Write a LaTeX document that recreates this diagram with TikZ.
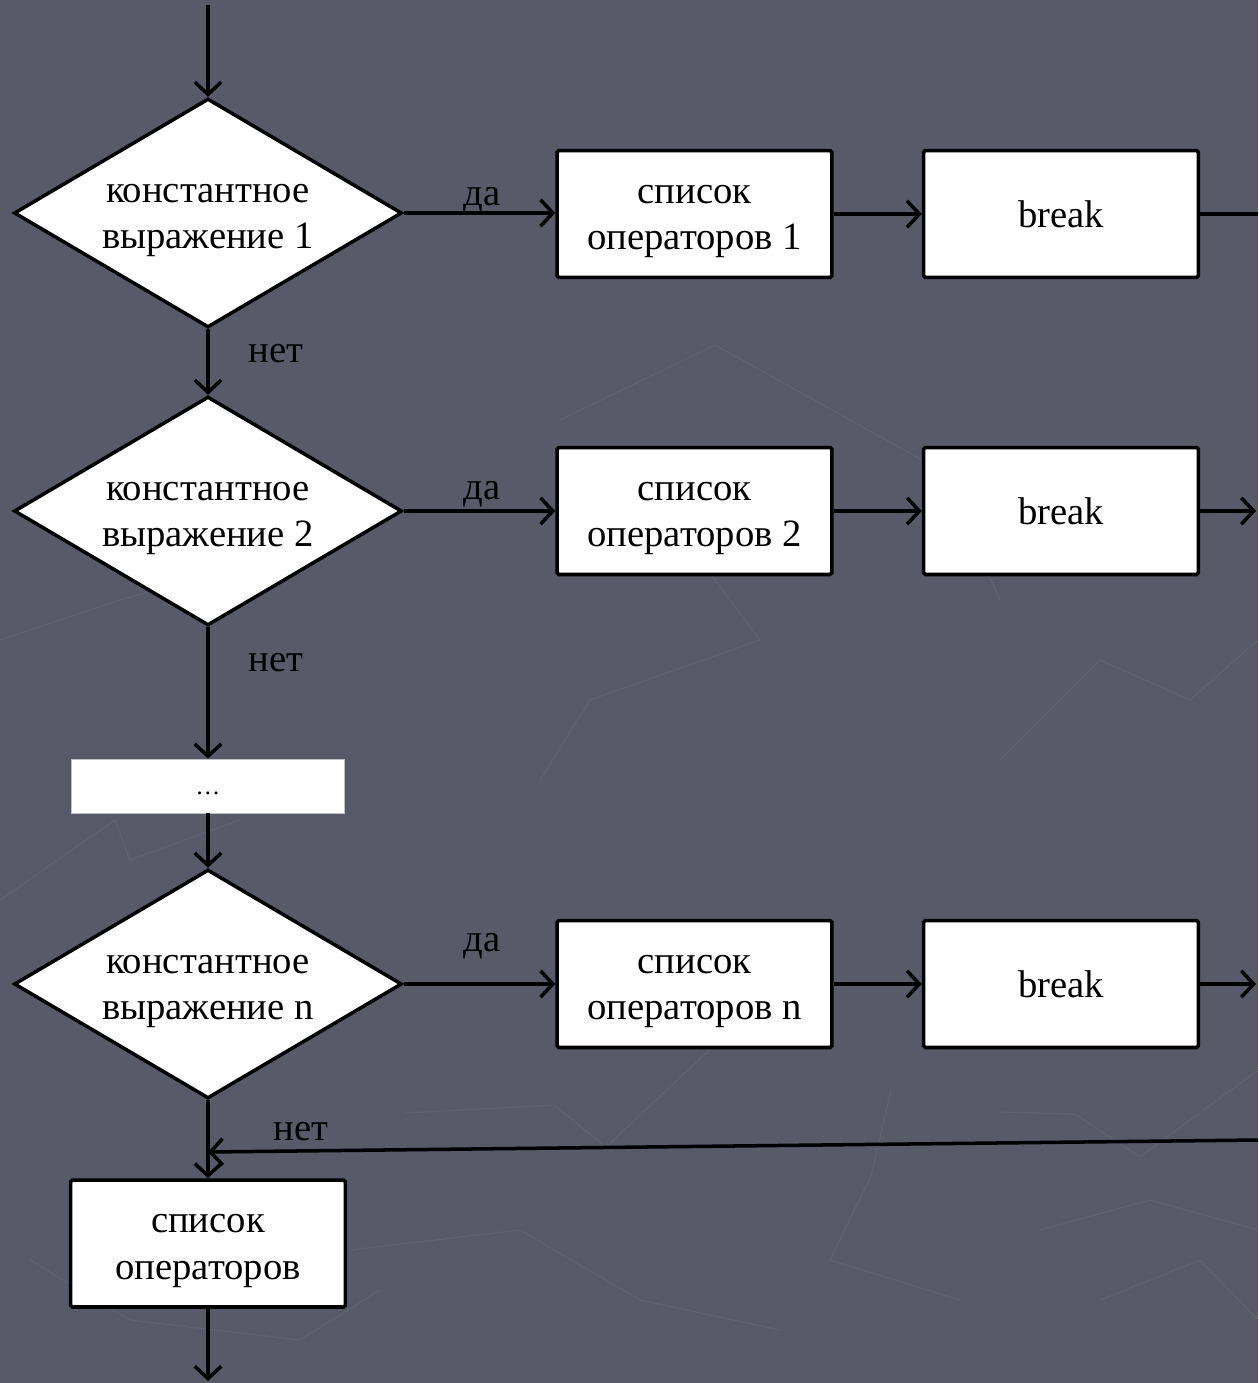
\documentclass[tikz,border=0pt]{standalone}
\usepackage{fontspec}
\setmainfont{Liberation Serif}
\usetikzlibrary{shapes.geometric,arrows.meta}
\definecolor{slate}{RGB}{88,90,105}
\definecolor{sheen}{RGB}{96,98,113}
\definecolor{dotsframe}{RGB}{190,190,195}
% line strut: sets the baseline a little lower inside two-line boxes
\newcommand\lstrut{\rule[-5pt]{0pt}{24pt}}
\tikzset{
  base/.style={line width=2pt, draw=black, fill=white, inner sep=0pt,
    font=\fontsize{22}{26.5}\selectfont, align=center, text=black},
  decision/.style={base, diamond, aspect=1.7,
    minimum width=7.76cm, minimum height=4.58cm},
  stepbox/.style={base, rectangle, rounded corners=1pt,
    minimum width=5.5cm, minimum height=2.54cm},
  gapbox/.style={rectangle, fill=white, draw=dotsframe, line width=0.4pt,
    minimum width=5.46cm, minimum height=1.08cm, inner sep=0pt,
    font=\fontsize{14}{25}\selectfont},
  lbl/.style={font=\fontsize{22}{26.5}\selectfont, text=black, inner sep=0pt, anchor=base},
  wire/.style={line width=2pt, draw=black},
  flow/.style={wire, -{Straight Barb[length=7pt, width=15pt]}},
  texture/.style={draw=sheen, line width=0.7pt, line join=round}
}
\begin{document}
\begin{tikzpicture}[x=0.02cm, y=-0.02cm]
  % page and background
  \fill[slate] (0,0) rectangle (1258,1383);
  \useasboundingbox (0,0) rectangle (1258,1383);

  % faint background texture
  \draw[texture] (405,1113) -- (554,1105) -- (606,1147) -- (720,1040) -- (640,980);
  \draw[texture] (999,1112) -- (1075,1114) -- (1140,1157) -- (1258,1070);
  \draw[texture] (891,1090) -- (871,1176) -- (830,1260) -- (960,1300);
  \draw[texture] (560,420) -- (715,345) -- (940,470) -- (1000,600);
  \draw[texture] (540,780) -- (590,700) -- (760,640) -- (700,560);
  \draw[texture] (1000,760) -- (1100,660) -- (1190,700) -- (1258,640);
  \draw[texture] (0,640) -- (120,600) -- (260,560);
  \draw[texture] (0,900) -- (115,820) -- (130,860) -- (240,820);
  \draw[texture] (30,1260) -- (130,1320) -- (300,1340) -- (380,1290);
  \draw[texture] (350,1250) -- (520,1230) -- (640,1300) -- (780,1330);
  \draw[texture] (1040,1230) -- (1150,1200) -- (1258,1230);
  \draw[texture] (1100,1300) -- (1200,1260) -- (1258,1320);

  % main column
  \node[decision] (d1) at (208,213) {\lstrut константное\\\lstrut выражение 1};
  \node[decision] (d2) at (208,511) {\lstrut константное\\\lstrut выражение 2};
  \node[gapbox] (gap) at (208,786) {\strut\ldots};
  \node[decision] (dn) at (208,984) {\lstrut константное\\\lstrut выражение n};
  \node[stepbox] (fin) at (208,1243.5) {\lstrut список\\\lstrut операторов};

  % branch rows
  \node[stepbox] (s1) at (694.5,214) {\lstrut список\\\lstrut операторов 1};
  \node[stepbox] (b1) at (1061,214) {break};
  \node[stepbox] (s2) at (694.5,511) {\lstrut список\\\lstrut операторов 2};
  \node[stepbox] (b2) at (1061,511) {break};
  \node[stepbox] (sn) at (694.5,984) {\lstrut список\\\lstrut операторов n};
  \node[stepbox] (bn) at (1061,984) {break};

  % free ends
  \coordinate (entry) at (208,5);
  \coordinate (exit) at (208,1381);
  \coordinate (out1) at (1258,214);
  \coordinate (out2) at (1256,511);
  \coordinate (outn) at (1256,984);
  \coordinate (back) at (1258,1140);
  \coordinate (merge) at (208,1152);

  % vertical flow
  \draw[flow] (entry) -- (d1.north);
  \draw[flow] (d1.south) -- (d2.north);
  \draw[flow] (d2.south) -- (gap.north);
  \draw[flow] (gap.south) -- (dn.north);
  \draw[flow] (dn.south) -- (fin.north);
  \draw[flow] (fin.south) -- (exit);

  % "yes" branches
  \draw[flow] (d1.east) -- (s1.west |- d1.east);
  \draw[flow] (s1.east) -- (b1.west);
  \draw[wire] (b1.east) -- (out1);
  \draw[flow] (d2.east) -- (s2.west);
  \draw[flow] (s2.east) -- (b2.west);
  \draw[flow] (b2.east) -- (out2);
  \draw[flow] (dn.east) -- (sn.west);
  \draw[flow] (sn.east) -- (bn.west);
  \draw[flow] (bn.east) -- (outn);

  % return line from the breaks
  \draw[flow] (back) -- (merge);

  % branch labels
  \node[lbl] (yes1) at (482,205) {да};
  \node[lbl] (yes2) at (482,499) {да};
  \node[lbl] (yesn) at (482,951) {да};
  \node[lbl] (no1) at (276,362) {нет};
  \node[lbl] (no2) at (276,671) {нет};
  \node[lbl] (non) at (301,1140) {нет};
\end{tikzpicture}
\end{document}
